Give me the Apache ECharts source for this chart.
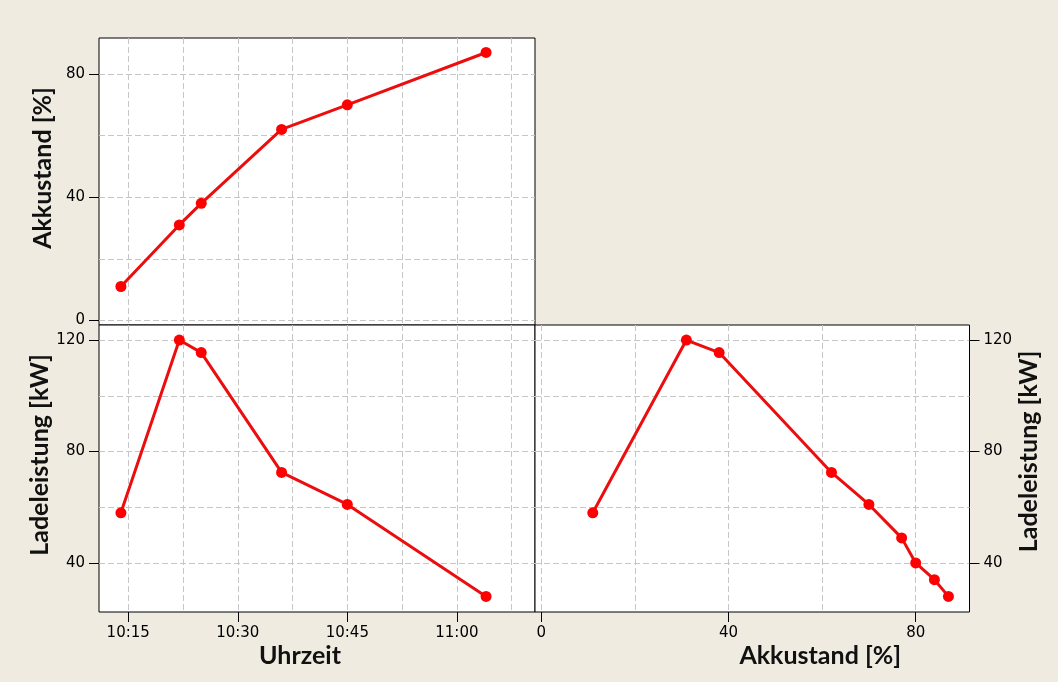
<!DOCTYPE html>
<html>
<head>
<meta charset="utf-8">
<script src="https://cdn.jsdelivr.net/npm/echarts@6/dist/echarts.min.js"></script>
<style>
html,body{margin:0;padding:0;background:#EFEBE1;}
#chart{width:1058px;height:682px;}
</style>
</head>
<body>
<div id="chart"></div>
<script>
// ---- data ----
const times = ['10:14', '10:22', '10:25', '10:36', '10:45', '11:04'];
const akkuByTime = [11, 31, 38, 62, 70, 87];
const powerByTime = [58, 120, 115.5, 72.5, 61, 28];

const akkuScatter = [11, 31, 38, 62, 70, 77, 80, 84, 87];
const powerScatter = [58, 120, 115.5, 72.5, 61, 49, 40, 34, 28];

// ---- ticks / grid lines ----
const timeTickLabels = ['10:15', '10:30', '10:45', '11:00'];
const timeGridLines = ['10:15', '10:22:30', '10:30', '10:37:30', '10:45', '10:52:30', '11:00', '11:07:30'];
const akkuTickLabels = [0, 40, 80];
const akkuGridLines = [0, 20, 40, 60, 80];
const powerTickLabels = [40, 80, 120];
const powerGridLines = [40, 60, 80, 100, 120];

function toMin(s) {
  const p = s.split(':').map(Number);
  return p[0] * 60 + p[1] + (p[2] || 0) / 60;
}
function fmtTime(v) {
  const h = Math.floor(v / 60), m = Math.round(v - h * 60);
  return h + ':' + (m < 10 ? '0' : '') + m;
}

const TIME_MIN = toMin('10:11'), TIME_MAX = toMin('11:10:42');
const AKKU_MIN = -1.5, AKKU_MAX = 91.7;
const AKKU_X_MIN = -1.35, AKKU_X_MAX = 91.5;
const POW_MIN = 22.4, POW_MAX = 125.4;

const tickFont = {color: '#000', fontFamily: 'DejaVu Sans', fontSize: 15};
const nameFont = {color: '#111', fontFamily: 'Lato', fontWeight: 'bold', fontSize: 25};
const gridLineStyle = {show: true, lineStyle: {color: '#C6C6C6', type: [6, 3], width: 1}};
const tickStyle = {show: true, length: 10, inside: false, lineStyle: {color: '#000', width: 1}};

function gridAxis(gridIndex, min, max, values, position) {
  return {
    type: 'value', gridIndex, min, max, position,
    axisLine: {show: false, onZero: false},
    axisTick: {show: false, customValues: values},
    axisLabel: {show: false},
    splitLine: gridLineStyle
  };
}
function labelAxis(gridIndex, min, max, values, position, formatter, name, namePad, nameGap, nameRotate) {
  const a = {
    type: 'value', gridIndex, min, max, position,
    axisLine: {show: false, onZero: false},
    axisTick: Object.assign({customValues: values}, tickStyle),
    axisLabel: Object.assign({show: true, customValues: values, margin: 14, formatter}, tickFont),
    splitLine: {show: false}
  };
  if (name) {
    a.name = name;
    a.nameLocation = 'middle';
    a.nameGap = nameGap;
    a.nameTextStyle = Object.assign({padding: namePad}, nameFont);
    if (nameRotate !== undefined) a.nameRotate = nameRotate;
  }
  return a;
}

const gridBase = {show: true, backgroundColor: '#FFFFFF', borderColor: '#000', borderWidth: 1, containLabel: false};

const option = {
  animation: false,
  backgroundColor: '#EFEBE1',
  grid: [
    Object.assign({left: 99, top: 38, width: 436, height: 287}, gridBase),
    Object.assign({left: 99, top: 325, width: 436, height: 287}, gridBase),
    Object.assign({left: 535, top: 325, width: 434.5, height: 287}, gridBase)
  ],
  xAxis: [
    gridAxis(0, TIME_MIN, TIME_MAX, timeGridLines.map(toMin), 'bottom'),
    gridAxis(1, TIME_MIN, TIME_MAX, timeGridLines.map(toMin), 'top'),
    labelAxis(1, TIME_MIN, TIME_MAX, timeTickLabels.map(toMin), 'bottom', fmtTime, 'Uhrzeit', [0, 34, 0, 0], 31),
    gridAxis(2, AKKU_X_MIN, AKKU_X_MAX, akkuGridLines, 'top'),
    labelAxis(2, AKKU_X_MIN, AKKU_X_MAX, akkuTickLabels, 'bottom', null, 'Akkustand [%]', [0, 0, 0, 136], 31)
  ],
  yAxis: [
    gridAxis(0, AKKU_MIN, AKKU_MAX, akkuGridLines, 'right'),
    labelAxis(0, AKKU_MIN, AKKU_MAX, akkuTickLabels, 'left', null, 'Akkustand [%]', [0, 0, 0, 27], 44),
    gridAxis(1, POW_MIN, POW_MAX, powerGridLines, 'right'),
    labelAxis(1, POW_MIN, POW_MAX, powerTickLabels, 'left', null, 'Ladeleistung [kW]', [0, 0, 0, 27], 44),
    gridAxis(2, POW_MIN, POW_MAX, powerGridLines, 'left'),
    labelAxis(2, POW_MIN, POW_MAX, powerTickLabels, 'right', null, 'Ladeleistung [kW]', [0, 0, 0, 34], 43)
  ],
  series: [
    {
      type: 'line', xAxisIndex: 0, yAxisIndex: 1,
      data: times.map((t, i) => [toMin(t), akkuByTime[i]])
    },
    {
      type: 'line', xAxisIndex: 2, yAxisIndex: 3,
      data: times.map((t, i) => [toMin(t), powerByTime[i]])
    },
    {
      type: 'line', xAxisIndex: 4, yAxisIndex: 5,
      data: akkuScatter.map((a, i) => [a, powerScatter[i]])
    }
  ].map(s => Object.assign(s, {
    symbol: 'circle', symbolSize: 11, showSymbol: true,
    itemStyle: {color: '#FF0000'},
    lineStyle: {color: '#EC0E0E', width: 3},
    emphasis: {disabled: true}
  }))
};

const chart = echarts.init(document.getElementById('chart'), null, {renderer: 'canvas'});
chart.setOption(option);
</script>
</body>
</html>
